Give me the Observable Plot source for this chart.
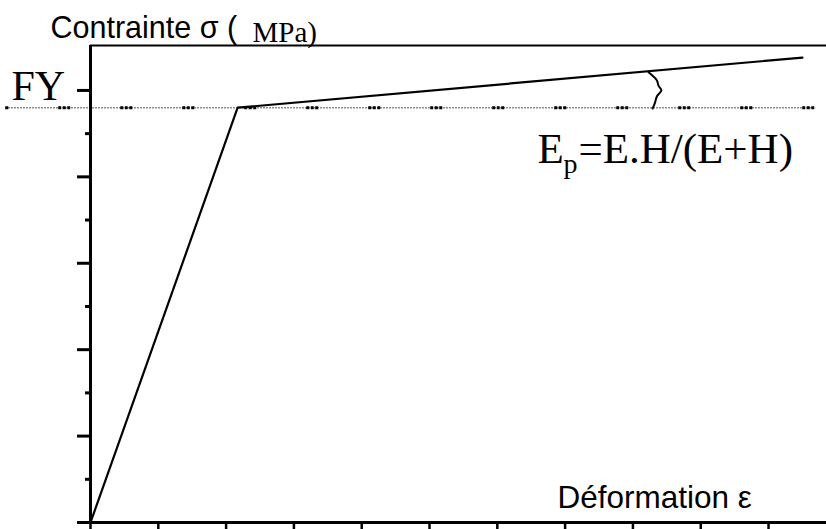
<!DOCTYPE html>
<html><head><meta charset="utf-8">
<script src="https://cdn.jsdelivr.net/npm/d3@7"></script>
<script src="https://cdn.jsdelivr.net/npm/@observablehq/plot@0.6"></script>
<style>body{margin:0;background:#fff}</style>
</head><body><div id="chart"></div>
<script>
// Bilinear stress–strain law (arbitrary units)
const curveStrain = [0, 2.17, 10.5];
const curveStress = [0, 4.80, 5.38];
const fyLevel = 4.80;                 // dotted yield level
const fyLineStrainRange = [-1.25, 10.7];
const fyTickValue = 5;                // tick labelled FY
const xTicks = [0,1,2,3,4,5,6,7,8,9,10];
const yMajorTicks = [0,1,2,3,4,5];
const yMinorTicks = [0.5,1.5,2.5,3.5,4.5];
const xMax = 10.855, yMax = 5.52;
// angle brace marking the hardening slope
const braceStrain = [8.23, 8.35, 8.38, 8.42, 8.36, 8.33, 8.29];
const braceStress = [5.21, 5.12, 5.05, 5.00, 4.94, 4.87, 4.79];
// texts
const yLabel = "Contrainte σ (";
const yUnit = "MPa)";
const xLabel = "Déformation ε";
const fyLabel = "FY";
const epBase = "E", epSub = "p", epRest = "=E.H/(E+H)";

const curve = curveStrain.map((x, i) => ({x, y: curveStress[i]}));
const brace = braceStrain.map((x, i) => ({x, y: braceStress[i]}));
const sans = "Liberation Sans, Arial, sans-serif";
const serif = "Liberation Serif, Times New Roman, serif";

const chart = Plot.plot({
  width: 826, height: 529,
  marginLeft: 90, marginRight: 0, marginTop: 45, marginBottom: 7,
  x: {domain: [0, xMax]},
  y: {domain: [0, yMax]},
  style: {background: "#fff", color: "#000"},
  marks: [
    // dotted FY level: fine dots + black square groups
    Plot.ruleY([fyLevel], {x1: fyLineStrainRange[0], x2: fyLineStrainRange[1], stroke: "#666", strokeWidth: 1.6, strokeDasharray: "1.5,1.5"}),
    Plot.ruleY([fyLevel], {x1: fyLineStrainRange[0], x2: fyLineStrainRange[1], stroke: "#000", strokeWidth: 3, strokeDasharray: "3,1.5,3,1.5,3,50", strokeDashoffset: 9}),
    // frame
    Plot.ruleY([yMax], {stroke: "#000", strokeWidth: 2}),
    Plot.ruleX([0], {stroke: "#000", strokeWidth: 3}),
    Plot.ruleY([0], {stroke: "#000", strokeWidth: 3}),
    Plot.axisY({ticks: yMajorTicks, tickSize: 13, strokeWidth: 3, tickFormat: () => "", label: null}),
    Plot.axisY({ticks: yMinorTicks, tickSize: 5, strokeWidth: 3, tickFormat: () => "", label: null}),
    Plot.axisX({ticks: xTicks, tickSize: 9, strokeWidth: 2.5, tickFormat: () => "", label: null}),
    // curve
    Plot.line(curve, {x: "x", y: "y", stroke: "#000", strokeWidth: 2.2}),
    Plot.line(brace, {x: "x", y: "y", stroke: "#000", strokeWidth: 2, curve: "natural"}),
    // labels
    Plot.text([yLabel], {frameAnchor: "top-left", dx: -40, dy: -8, text: d => d, textAnchor: "start", lineAnchor: "bottom", fontSize: 30.5, fontFamily: sans, fill: "#000"}),
    Plot.text([yUnit], {frameAnchor: "top-left", dx: 162, dy: -4, text: d => d, textAnchor: "start", lineAnchor: "bottom", fontSize: 29, fontFamily: serif, fill: "#000"}),
    Plot.text([fyLabel], {frameAnchor: "left", y: () => fyTickValue, dx: -79, dy: 10, text: d => d, textAnchor: "start", lineAnchor: "bottom", fontSize: 42, fontFamily: serif, fill: "#000"}),
    Plot.text([xLabel], {frameAnchor: "bottom-left", dx: 467, dy: -15, text: d => d, textAnchor: "start", lineAnchor: "bottom", fontSize: 31.5, fontFamily: sans, fill: "#000"}),
    Plot.text([epBase], {frameAnchor: "top-left", dx: 447, dy: 117, text: d => d, textAnchor: "start", lineAnchor: "bottom", fontSize: 43, fontFamily: serif, fill: "#000"}),
    Plot.text([epSub], {frameAnchor: "top-left", dx: 473, dy: 127, text: d => d, textAnchor: "start", lineAnchor: "bottom", fontSize: 28, fontFamily: serif, fill: "#000"}),
    Plot.text([epRest], {frameAnchor: "top-left", dx: 488, dy: 117, text: d => d, textAnchor: "start", lineAnchor: "bottom", fontSize: 43, fontFamily: serif, fill: "#000"})
  ]
});
document.getElementById("chart").appendChild(chart);
</script>
</body></html>
